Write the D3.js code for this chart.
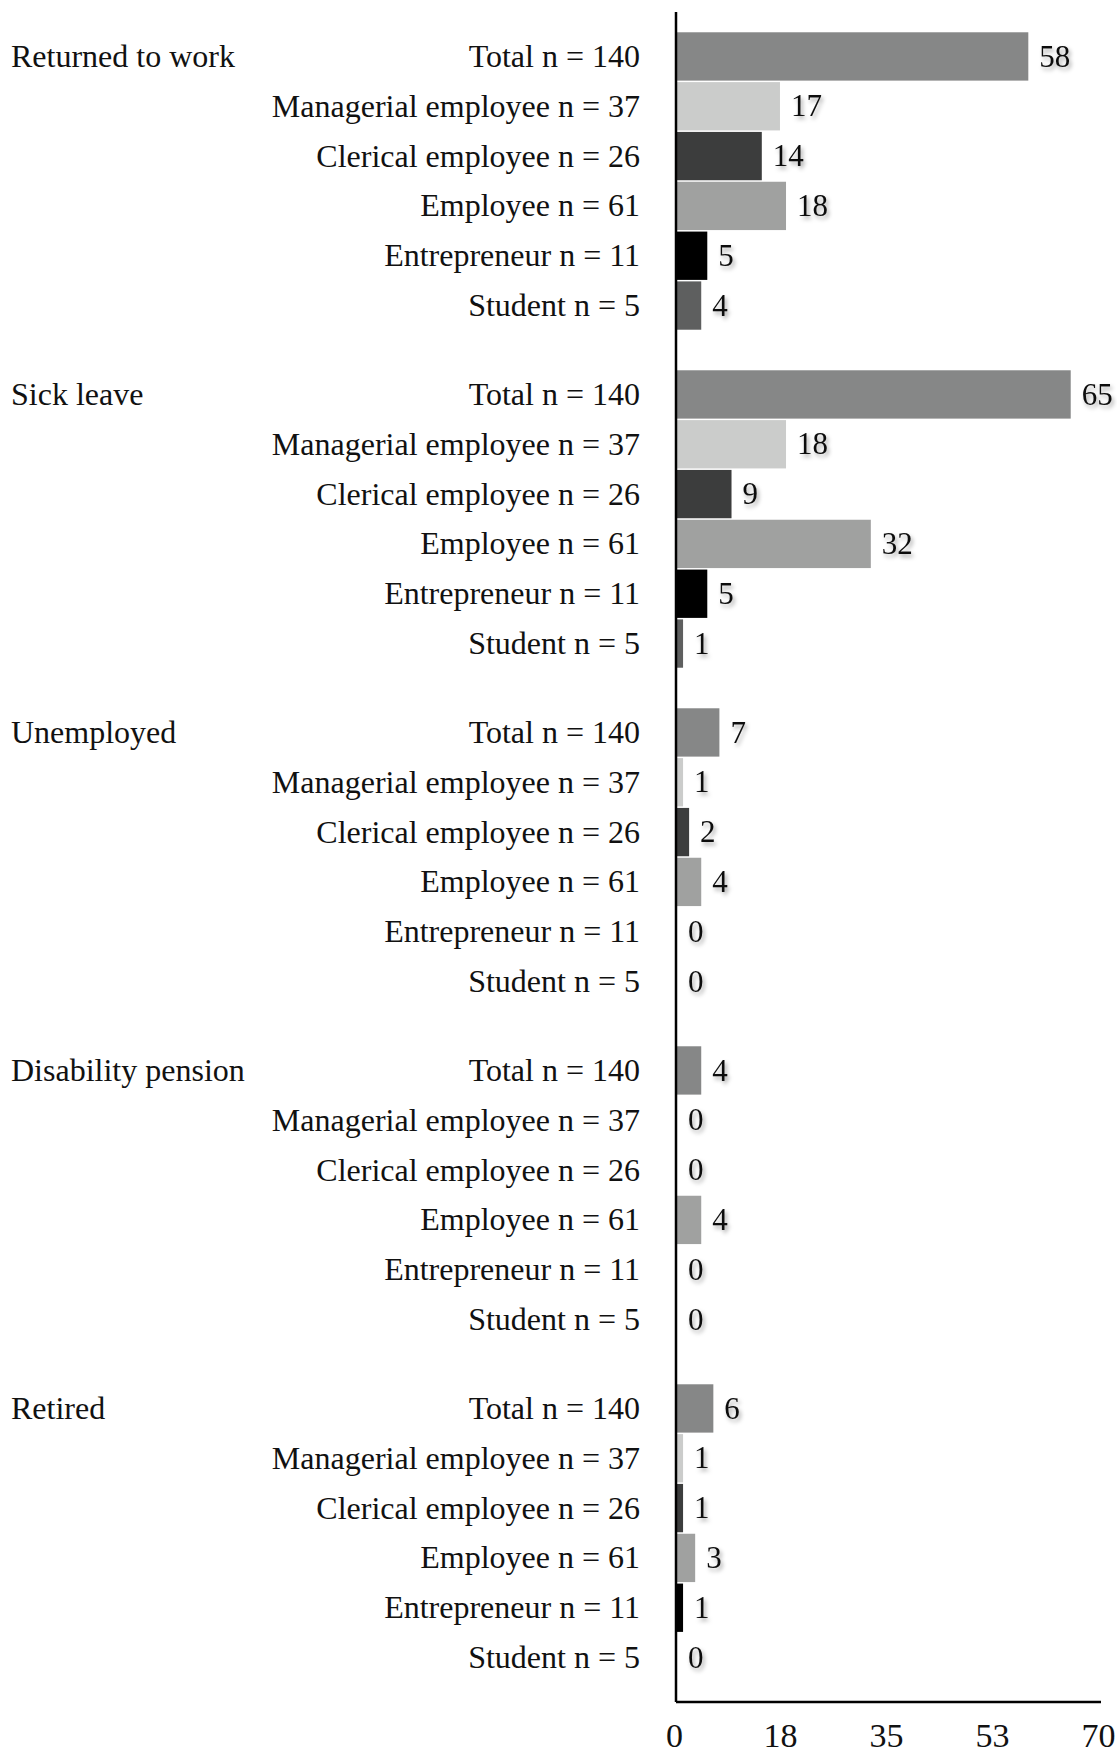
<!DOCTYPE html>
<html>
<head>
<meta charset="utf-8">
<script src="https://cdn.jsdelivr.net/npm/d3@7"></script>
<style>
  html, body { margin: 0; padding: 0; background: #fff; }
  svg { display: block; }
</style>
</head>
<body>
<div id="chart"></div>
<script>
const groups = ["Returned to work", "Sick leave", "Unemployed", "Disability pension", "Retired"]
const categories = ["Total n = 140", "Managerial employee n = 37", "Clerical employee n = 26", "Employee n = 61", "Entrepreneur n = 11", "Student n = 5"]
const colors = ["#868787", "#cbcccb", "#3c3d3d", "#a0a1a0", "#000000", "#5e5f5f"]

const returnedToWork = [58, 17, 14, 18, 5, 4]
const sickLeave = [65, 18, 9, 32, 5, 1]
const unemployed = [7, 1, 2, 4, 0, 0]
const disabilityPension = [4, 0, 0, 4, 0, 0]
const retired = [6, 1, 1, 3, 1, 0]
const seriesValues = [returnedToWork, sickLeave, unemployed, disabilityPension, retired]

const tickValues = [0, 17.5, 35, 52.5, 70]
const tickLabels = ["0", "18", "35", "53", "70"]

const width = 1117
const height = 1755
const font = "'Liberation Serif', 'Times New Roman', serif"

const svg = d3.select("#chart")
  .append("svg")
  .attr("width", width)
  .attr("height", height)
  .attr("viewBox", `0 0 ${width} ${height}`)

const filter = svg.append("defs").append("filter")
  .attr("id", "shadow")
  .attr("x", "-50%").attr("y", "-50%")
  .attr("width", "200%").attr("height", "200%")
filter.append("feDropShadow")
  .attr("dx", 2)
  .attr("dy", 3)
  .attr("stdDeviation", 2.2)
  .attr("flood-color", "#000")
  .attr("flood-opacity", 0.35)

const x = d3.scaleLinear().domain([0, 70]).range([677, 1101])

const yGroup = d3.scaleBand()
  .domain(groups)
  .range([12, 1702])
  .paddingInner(0.12)
  .paddingOuter(0.06)

const yRow = d3.scaleBand()
  .domain(categories)
  .range([0, yGroup.bandwidth()])
  .paddingInner(0.03)
  .paddingOuter(0)

const rows = groups.flatMap((group, gi) => categories.map((category, ci) => ({
  group, category, index: ci, value: seriesValues[gi][ci]
})))

const rowCenter = d => yGroup(d.group) + yRow(d.category) + yRow.bandwidth() / 2

// bars
svg.append("g")
  .selectAll("rect")
  .data(rows)
  .join("rect")
  .attr("x", x(0))
  .attr("y", d => yGroup(d.group) + yRow(d.category))
  .attr("width", d => x(d.value) - x(0))
  .attr("height", yRow.bandwidth())
  .attr("fill", d => colors[d.index])

// category labels
svg.append("g")
  .selectAll("text")
  .data(rows)
  .join("text")
  .attr("x", 640)
  .attr("y", rowCenter)
  .attr("dy", "0.33em")
  .attr("text-anchor", "end")
  .attr("font-family", font)
  .attr("font-size", 32)
  .attr("fill", "#111")
  .text(d => d.category)

// group labels
svg.append("g")
  .selectAll("text")
  .data(groups)
  .join("text")
  .attr("x", 11)
  .attr("y", d => yGroup(d) + yRow(categories[0]) + yRow.bandwidth() / 2)
  .attr("dy", "0.33em")
  .attr("font-family", font)
  .attr("font-size", 32)
  .attr("fill", "#111")
  .text(d => d)

// value labels
svg.append("g")
  .selectAll("text")
  .data(rows)
  .join("text")
  .attr("x", d => x(d.value) + 11)
  .attr("y", rowCenter)
  .attr("dy", "0.33em")
  .attr("font-family", font)
  .attr("font-size", 31)
  .attr("fill", "#111")
  .attr("filter", "url(#shadow)")
  .text(d => d.value)

// axis lines
svg.append("line")
  .attr("x1", 676).attr("x2", 676)
  .attr("y1", yGroup.range()[0]).attr("y2", yGroup.range()[1])
  .attr("stroke", "#000")
  .attr("stroke-width", 2.5)

svg.append("line")
  .attr("x1", 676).attr("x2", x.range()[1])
  .attr("y1", yGroup.range()[1]).attr("y2", yGroup.range()[1])
  .attr("stroke", "#000")
  .attr("stroke-width", 2.5)

svg.append("g")
  .attr("transform", `translate(-3,${yGroup.range()[1]})`)
  .call(d3.axisBottom(x)
    .tickValues(tickValues)
    .tickFormat((d, i) => tickLabels[i])
    .tickSize(0)
    .tickPadding(21))
  .call(g => g.select(".domain").remove())
  .call(g => g.selectAll("text")
    .attr("font-family", font)
    .attr("font-size", 34)
    .attr("fill", "#111"))
</script>
</body>
</html>
